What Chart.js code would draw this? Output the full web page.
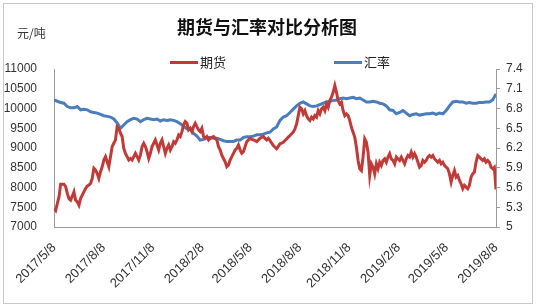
<!DOCTYPE html>
<html>
<head>
<meta charset="utf-8">
<script src="https://cdn.jsdelivr.net/npm/chart.js@4"></script>
<style>
  html, body { margin: 0; padding: 0; background: #fff; }
  #wrap { width: 536px; height: 307px; position: relative; }
</style>
</head>
<body>
<div id="wrap"><canvas id="chart" width="536" height="307"></canvas></div>
<script>
const START_DATE = '2017/5/8';
const END_DATE = '2019/8/8';
const TICK_DATES = ['2017/5/8', '2017/8/8', '2017/11/8', '2018/2/8', '2018/5/8',
    '2018/8/8', '2018/11/8', '2019/2/8', '2019/5/8', '2019/8/8'];

// 期货 (元/吨), evenly spaced from START_DATE to END_DATE
const FUTURES = [
    7470, 7420, 7590, 7760, 8085, 8085, 8085, 8020, 7850, 7720,
    7680, 7780, 7890, 7680, 7635, 7550, 7720, 7805, 7890, 7975,
    8035, 8060, 8100, 8230, 8485, 8440, 8355, 8230, 8400, 8525,
    8695, 8780, 8650, 8525, 8780, 9035, 9120, 9205, 9540, 9500,
    9375, 9290, 8990, 8865, 8780, 8695, 8735, 8695, 8780, 8865,
    8780, 8695, 8820, 9035, 9120, 9035, 8905, 8735, 8865, 9035,
    9120, 9205, 9075, 8950, 9120, 9205, 9035, 8865, 8990, 9075,
    8950, 9035, 9160, 9120, 9205, 9330, 9290, 9415, 9585, 9670,
    9625, 9460, 9500, 9415, 9540, 9625, 9540, 9460, 9415, 9500,
    9290, 9245, 9290, 9205, 9245, 9270, 9290, 9245, 9205, 9035,
    8950, 8820, 8735, 8650, 8525, 8570, 8695, 8780, 8865, 8950,
    8990, 9075, 8950, 8865, 8905, 9035, 9160, 9205, 9245, 9220,
    9205, 9185, 9160, 9205, 9245, 9270, 9290, 9245, 9205, 9245,
    9190, 9120, 9065, 9020, 8980, 9040, 9105, 9120, 9145, 9190,
    9230, 9275, 9315, 9360, 9400, 9485, 9610, 9820, 10030, 9990,
    9865, 9945, 9820, 9735, 9695, 9780, 9735, 9820, 9780, 9945,
    9865, 9990, 10030, 9945, 10115, 10030, 10200, 10285, 10410, 10580,
    10410, 10200, 10115, 10160, 9945, 9820, 9865, 9820, 9695, 9525,
    9400, 9275, 9020, 8685, 8475, 8430, 8770, 9230, 9145, 8895,
    8305, 8600, 8515, 8345, 8600, 8475, 8640, 8560, 8685, 8725,
    8640, 8770, 8855, 8725, 8685, 8600, 8770, 8725, 8685, 8770,
    8685, 8600, 8725, 8810, 8770, 8895, 8770, 8855, 8770, 8640,
    8515, 8560, 8685, 8640, 8685, 8770, 8810, 8770, 8810, 8725,
    8685, 8640, 8685, 8600, 8640, 8560, 8515, 8475, 8345, 8135,
    8305, 8430, 8265, 8305, 8180, 8095, 7970, 8055, 8010, 7970,
    8055, 8265, 8345, 8390, 8640, 8810, 8770, 8725, 8685, 8725,
    8640, 8685, 8640, 8515, 8475, 8515, 7950
];

// 汇率, evenly spaced from START_DATE to END_DATE
const FX_RATE = [
    6.93, 6.91, 6.89, 6.88, 6.83, 6.81, 6.81, 6.83, 6.78, 6.79,
    6.78, 6.75, 6.74, 6.73, 6.71, 6.69, 6.68, 6.67, 6.64, 6.58,
    6.50, 6.55, 6.60, 6.63, 6.65, 6.64, 6.60, 6.63, 6.65, 6.64,
    6.63, 6.64, 6.61, 6.63, 6.62, 6.63, 6.62, 6.60, 6.57, 6.53,
    6.49, 6.48, 6.42, 6.38, 6.32, 6.33, 6.36, 6.36, 6.35, 6.35,
    6.33, 6.31, 6.30, 6.30, 6.30, 6.32, 6.32, 6.36, 6.37, 6.37,
    6.38, 6.40, 6.40, 6.41, 6.43,
    6.44, 6.49, 6.52, 6.62, 6.67, 6.69, 6.74, 6.79, 6.84, 6.88,
    6.90, 6.87, 6.84, 6.83, 6.84, 6.86, 6.88, 6.90, 6.91, 6.92,
    6.93, 6.95, 6.96, 6.95, 6.96, 6.97, 6.95, 6.96, 6.93, 6.90,
    6.90, 6.91, 6.90, 6.88, 6.87, 6.84, 6.78, 6.77, 6.72, 6.74,
    6.77, 6.73, 6.69, 6.71, 6.72, 6.70, 6.71, 6.72, 6.72, 6.73,
    6.71, 6.73, 6.72, 6.77, 6.84, 6.90, 6.91, 6.90, 6.90, 6.88,
    6.89, 6.88, 6.88, 6.89, 6.89, 6.90, 6.90, 6.93, 7.02
];

function dayOf(s) {
    const [y, m, d] = s.split('/').map(Number);
    return Date.UTC(y, m - 1, d) / 86400000;
}

const day0 = dayOf(START_DATE);
const span = dayOf(END_DATE) - day0;
const tickDays = TICK_DATES.map(s => dayOf(s) - day0);

function spread(values) {
    return values.map((v, i) => ({ x: i * span / (values.length - 1), y: v }));
}

const CN_FONT = '"Noto Sans CJK SC", "Liberation Sans", sans-serif';
const TICK_FONT = { family: '"Liberation Sans", Arial, sans-serif', size: 12 };
const RED = '#c03b37';
const BLUE = '#4a7dbb';

const decorations = {
    id: 'decorations',
    beforeDraw(chart) {
        const ctx = chart.ctx;
        ctx.save();
        ctx.fillStyle = '#fff';
        ctx.fillRect(0, 0, chart.width, chart.height);
        ctx.strokeStyle = '#c8c8c8';
        ctx.lineWidth = 1;
        ctx.strokeRect(3.5, 3.5, 529, 300);
        ctx.restore();
    },
    afterDraw(chart) {
        const ctx = chart.ctx;
        ctx.save();
        ctx.fillStyle = '#111';
        ctx.textBaseline = 'middle';
        ctx.textAlign = 'center';
        ctx.font = 'bold 18px ' + CN_FONT;
        ctx.fillText('期货与汇率对比分析图', 267, 27);

        ctx.textAlign = 'left';
        ctx.font = '12px ' + CN_FONT;
        ctx.fillStyle = '#333';
        ctx.fillText('元/吨', 17, 33);

        const items = [['期货', RED, 170], ['汇率', BLUE, 334]];
        ctx.font = '13px ' + CN_FONT;
        for (const [label, color, x] of items) {
            ctx.strokeStyle = color;
            ctx.lineWidth = 3;
            ctx.beginPath();
            ctx.moveTo(x, 62.5);
            ctx.lineTo(x + 28, 62.5);
            ctx.stroke();
            ctx.fillStyle = '#222';
            ctx.fillText(label, x + 30, 62);
        }
        ctx.restore();
    }
};

new Chart(document.getElementById('chart'), {
    type: 'line',
    data: {
        datasets: [{
            label: '期货',
            data: spread(FUTURES),
            borderColor: RED,
            borderWidth: 3,
            pointRadius: 0,
            tension: 0,
            yAxisID: 'y'
        }, {
            label: '汇率',
            data: spread(FX_RATE),
            borderColor: BLUE,
            borderWidth: 3,
            pointRadius: 0,
            tension: 0,
            yAxisID: 'y1'
        }]
    },
    options: {
        responsive: false,
        animation: false,
        events: [],
        layout: { padding: { top: 69, left: 0, right: 0, bottom: 0 } },
        plugins: {
            legend: { display: false },
            title: { display: false },
            tooltip: { enabled: false }
        },
        scales: {
            x: {
                type: 'linear',
                min: 0,
                max: span,
                afterBuildTicks: scale => {
                    scale.ticks = tickDays.map(v => ({ value: v }));
                },
                afterFit: scale => { scale.height = 80; },
                grid: { display: false },
                border: { display: true, color: '#9a9a9a', width: 1 },
                ticks: {
                    autoSkip: false,
                    minRotation: 45,
                    maxRotation: 45,
                    padding: 5,
                    color: '#333',
                    font: { family: TICK_FONT.family, size: 13 },
                    callback: v => TICK_DATES[tickDays.indexOf(v)]
                }
            },
            y: {
                position: 'left',
                min: 7000,
                max: 11000,
                afterFit: scale => { scale.width = 54; },
                grid: { display: false },
                border: { display: true, color: '#9a9a9a', width: 1 },
                ticks: {
                    stepSize: 500,
                    padding: 9,
                    color: '#333',
                    font: TICK_FONT,
                    callback: v => String(v)
                }
            },
            y1: {
                position: 'right',
                min: 5,
                max: 7.4,
                afterFit: scale => { scale.width = 40; },
                grid: { display: true, drawOnChartArea: false, drawTicks: true, tickLength: 4, color: '#9a9a9a' },
                border: { display: true, color: '#9a9a9a', width: 1 },
                ticks: {
                    stepSize: 0.3,
                    padding: 6,
                    color: '#333',
                    font: TICK_FONT,
                    callback: v => String(Math.round(v * 10) / 10)
                }
            }
        }
    },
    plugins: [decorations]
});
</script>
</body>
</html>
